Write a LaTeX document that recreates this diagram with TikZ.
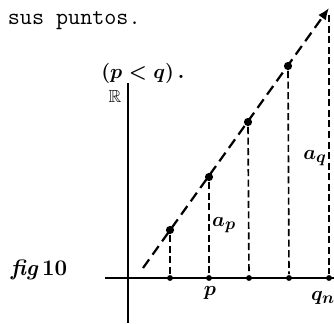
\documentclass[tikz,border=0pt]{standalone}
\usepackage{amssymb}
\usetikzlibrary{arrows.meta}
\begin{document}
\begin{tikzpicture}[x=0.03cm, y=-0.03cm, line width=1.5pt,
  dot/.style={circle, fill, inner sep=0pt, minimum size=7pt},
  tick/.style={circle, fill, inner sep=0pt, minimum size=5pt},
  guide/.style={line width=1.4pt, dash pattern=on 6pt off 3pt},
  ray/.style={line width=1.9pt, dash pattern=on 9pt off 5pt},
  lbl/.style={font=\fontsize{19}{21}\selectfont\boldmath}]
\useasboundingbox (0,0) rectangle (334,323);

\node[anchor=base west, inner sep=0pt, font=\fontsize{20}{22}\ttfamily] (head) at (7,24) {sus puntos.};

\coordinate (ytop) at (128,83);
\coordinate (ybot) at (128,323);
\coordinate (xl) at (105,278);
\coordinate (xr) at (334,278);

\node[dot] (d1) at (170,230) {};
\node[dot] (d2) at (209,177) {};
\node[dot] (d3) at (248,122) {};
\node[dot] (d4) at (288,66) {};
\coordinate (start) at (143,268);
\coordinate (tip) at (329,8);
\coordinate (top) at (329,15);

\node[tick] (b1) at (170,278) {};
\node[tick] (b2) at (209,278) {};
\node[tick] (b3) at (249,278) {};
\node[tick] (b4) at (289,278) {};
\node[tick] (b5) at (329,278) {};

\draw (ybot) -- (ytop);
\draw (xl) -- (xr);

\draw[ray, -{Latex[length=10pt, width=8pt]}] (start) -- (tip);

\draw[guide] (d1) -- (b1);
\draw[guide] (d2) -- (b2);
\draw[guide] (d3) -- (b3);
\draw[guide] (d4) -- (b4);
\draw[guide] (top) -- (b5);

\node[lbl] (cond) at (143,73) {$(p<q)$\,\textbf{.}};
\node[lbl, font=\fontsize{15}{17}\selectfont] (R) at (115,96) {$\mathbb{R}$};
\node[lbl] (ap) at (224,225) {$a_p$};
\node[lbl] (aq) at (315,158) {$a_q$};
\node[lbl] (p) at (210,293) {$p$};
\node[lbl] (q) at (323,298) {$q_n$};
\node[lbl, anchor=west] (fig) at (6,270) {\textit{\textbf{fig}}\,\textbf{10}};
\end{tikzpicture}
\end{document}
